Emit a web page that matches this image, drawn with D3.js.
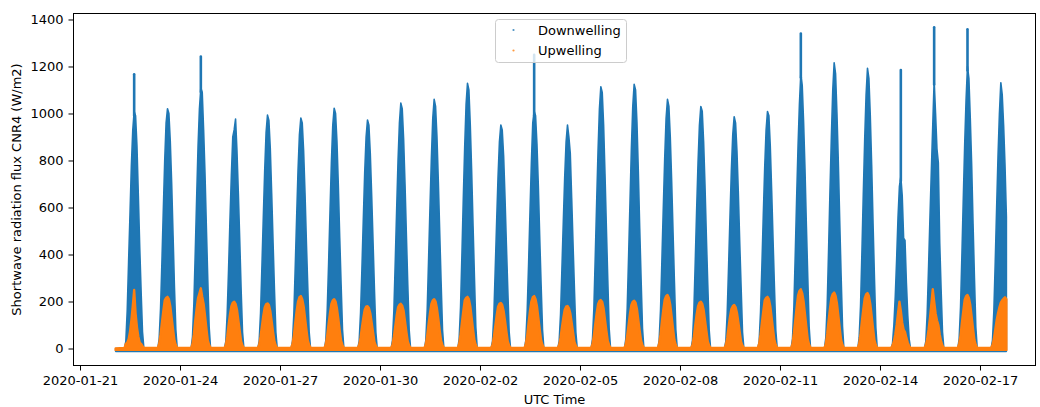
<!DOCTYPE html>
<html>
<head>
<meta charset="utf-8">
<script src="https://cdn.jsdelivr.net/npm/d3@7"></script>
<style>
  body { margin: 0; background: #fff; }
  svg { display: block; font-family: "DejaVu Sans", sans-serif; }
  .tick text { font-size: 13px; fill: #000; }
  .tick line { stroke: #000; }
</style>
</head>
<body>
<div id="chart"></div>
<script>
// days with data (one entry per day), hourly samples of the daily envelope (UTC hour)
const days = ["2020-01-22", "2020-01-23", "2020-01-24", "2020-01-25", "2020-01-26", "2020-01-27",
  "2020-01-28", "2020-01-29", "2020-01-30", "2020-01-31", "2020-02-01", "2020-02-02", "2020-02-03",
  "2020-02-04", "2020-02-05", "2020-02-06", "2020-02-07", "2020-02-08", "2020-02-09", "2020-02-10",
  "2020-02-11", "2020-02-12", "2020-02-13", "2020-02-14", "2020-02-15", "2020-02-16", "2020-02-17"];
const hours = [8, 9, 10, 11, 12, 13, 14, 15, 16, 17, 18, 19, 20, 21, 22];

// Downwelling, upper envelope (W/m2)
const downwelling = [
  [0, 30, 160, 370, 570, 780, 930, 1008, 990, 860, 650, 430, 240, 70, 0],
  [0, 40, 170, 370, 590, 800, 960, 1020, 1000, 880, 700, 480, 260, 80, 0],
  [0, 50, 190, 410, 640, 860, 1020, 1108, 1090, 930, 740, 510, 290, 90, 0],
  [0, 30, 150, 340, 550, 740, 900, 930, 976, 840, 660, 460, 250, 70, 0],
  [0, 30, 150, 350, 560, 760, 920, 993, 970, 850, 660, 450, 250, 70, 0],
  [0, 30, 150, 350, 560, 760, 910, 981, 960, 840, 660, 450, 260, 70, 0],
  [0, 35, 160, 360, 580, 790, 950, 1022, 1000, 880, 690, 470, 270, 80, 0],
  [0, 30, 150, 340, 550, 750, 900, 972, 950, 830, 650, 450, 250, 70, 0],
  [0, 35, 160, 370, 590, 800, 960, 1044, 1020, 890, 700, 480, 270, 80, 0],
  [0, 35, 165, 380, 600, 810, 980, 1060, 1030, 900, 710, 490, 280, 80, 0],
  [0, 40, 175, 400, 640, 860, 1040, 1128, 1100, 950, 750, 520, 300, 90, 0],
  [0, 30, 145, 340, 540, 730, 880, 951, 930, 820, 640, 440, 250, 70, 0],
  [0, 35, 160, 360, 580, 790, 960, 1010, 990, 870, 690, 470, 270, 80, 0],
  [0, 30, 145, 340, 540, 730, 880, 951, 900, 830, 640, 440, 250, 70, 0],
  [0, 40, 170, 390, 620, 840, 1020, 1114, 1090, 950, 740, 510, 290, 85, 0],
  [0, 40, 170, 390, 620, 850, 1030, 1124, 1100, 960, 750, 510, 290, 85, 0],
  [0, 35, 165, 380, 600, 810, 980, 1060, 1030, 900, 710, 490, 280, 80, 0],
  [0, 35, 160, 370, 590, 790, 950, 1030, 1010, 880, 690, 470, 270, 80, 0],
  [0, 30, 150, 350, 560, 760, 910, 986, 960, 840, 660, 450, 260, 70, 0],
  [0, 30, 155, 355, 570, 770, 930, 1008, 990, 860, 670, 460, 260, 75, 0],
  [0, 40, 175, 400, 640, 860, 1040, 1170, 1120, 960, 760, 520, 300, 90, 0],
  [0, 45, 185, 420, 670, 900, 1100, 1216, 1170, 1000, 790, 540, 310, 95, 0],
  [0, 45, 180, 410, 660, 890, 1080, 1192, 1150, 990, 780, 530, 300, 90, 0],
  [0, 20, 100, 220, 380, 560, 690, 730, 650, 470, 460, 280, 140, 40, 0],
  [0, 30, 150, 350, 560, 760, 950, 1140, 1000, 850, 790, 450, 250, 70, 0],
  [0, 40, 175, 400, 640, 870, 1060, 1200, 1150, 980, 780, 530, 300, 90, 0],
  [0, 35, 160, 370, 600, 820, 1000, 1131, 1080, 950, 780, 560]
];

// Short cloud-enhancement spikes above the daily envelope
const spikeDays = ["2020-01-22", "2020-01-24", "2020-02-03", "2020-02-11", "2020-02-14", "2020-02-15", "2020-02-16"];
const spikeValues = [1167, 1242, 1250, 1340, 1185, 1367, 1358];

// Upwelling, upper envelope (W/m2)
const upwelling = [
  [2, 20, 25, 40, 70, 120, 180, 249, 150, 90, 50, 25, 20, 10, 2],
  [2, 20, 60, 110, 160, 205, 215, 220, 210, 180, 130, 80, 35, 15, 2],
  [2, 20, 60, 120, 170, 215, 235, 256, 220, 190, 140, 85, 35, 15, 2],
  [2, 15, 50, 100, 145, 180, 195, 199, 190, 165, 120, 75, 30, 12, 2],
  [2, 15, 50, 95, 140, 175, 188, 192, 185, 160, 115, 70, 30, 12, 2],
  [2, 20, 55, 110, 160, 200, 218, 223, 210, 180, 130, 80, 35, 15, 2],
  [2, 18, 55, 105, 150, 190, 205, 210, 200, 170, 125, 75, 32, 14, 2],
  [2, 15, 45, 90, 130, 165, 178, 180, 172, 150, 110, 68, 28, 12, 2],
  [2, 15, 50, 95, 140, 175, 186, 190, 182, 160, 115, 70, 30, 12, 2],
  [2, 18, 55, 105, 150, 190, 205, 210, 200, 170, 125, 75, 32, 14, 2],
  [2, 20, 60, 110, 160, 205, 215, 220, 210, 180, 130, 80, 35, 15, 2],
  [2, 15, 50, 95, 140, 178, 190, 194, 185, 160, 118, 72, 30, 12, 2],
  [2, 20, 55, 110, 160, 200, 218, 223, 210, 180, 130, 80, 35, 15, 2],
  [2, 15, 45, 90, 130, 165, 178, 181, 172, 150, 110, 68, 28, 12, 2],
  [2, 18, 55, 105, 150, 188, 202, 206, 198, 170, 122, 75, 32, 14, 2],
  [2, 18, 55, 100, 148, 185, 199, 203, 195, 168, 120, 74, 32, 14, 2],
  [2, 20, 60, 115, 165, 208, 223, 228, 215, 185, 135, 82, 36, 15, 2],
  [2, 15, 50, 100, 145, 180, 195, 199, 190, 165, 120, 75, 30, 12, 2],
  [2, 15, 45, 92, 135, 168, 180, 185, 176, 152, 112, 70, 28, 12, 2],
  [2, 20, 60, 110, 160, 205, 215, 220, 210, 180, 130, 80, 35, 15, 2],
  [2, 20, 65, 120, 175, 225, 245, 252, 235, 200, 145, 90, 38, 16, 2],
  [2, 20, 62, 118, 170, 215, 232, 238, 225, 192, 140, 86, 36, 15, 2],
  [2, 20, 62, 116, 168, 213, 230, 236, 223, 190, 138, 85, 36, 15, 2],
  [2, 12, 30, 60, 100, 150, 199, 160, 110, 80, 70, 45, 25, 10, 2],
  [2, 15, 40, 80, 130, 190, 252, 200, 150, 120, 100, 60, 30, 12, 2],
  [2, 20, 55, 110, 160, 208, 223, 228, 215, 185, 135, 82, 36, 15, 2],
  [2, 15, 40, 80, 120, 150, 175, 195, 205, 212, 218, 210]
];

// night-time levels, record start / end
const nightLow = { down: -12, up: -6 };
const recordStart = "2020-01-22T01:40:00Z";
const recordEnd = "2020-02-17T19:00:00Z";

const xTickLabels = ["2020-01-21", "2020-01-24", "2020-01-27", "2020-01-30", "2020-02-02",
  "2020-02-05", "2020-02-08", "2020-02-11", "2020-02-14", "2020-02-17"];
const yTicks = [0, 200, 400, 600, 800, 1000, 1200, 1400];

const W = 1040, H = 407;
const margin = { left: 73.5, right: 1035.5, top: 13.5, bottom: 365.5 };
const blue = "#1f77b4", orange = "#ff7f0e";

const x = d3.scaleUtc()
  .domain([new Date("2020-01-20T19:19:00Z"), new Date("2020-02-18T15:58:00Z")])
  .range([margin.left, margin.right]);
const y = d3.scaleLinear().domain([-72.3, 1425.5]).range([margin.bottom, margin.top]);

const svg = d3.select('#chart').append('svg').attr('width', W).attr('height', H);
svg.append('defs').append('clipPath').attr('id', 'plot-clip')
  .append('rect').attr('x', margin.left).attr('y', margin.top)
  .attr('width', margin.right - margin.left).attr('height', margin.bottom - margin.top);

function toTime(day, h) {
  return new Date(Date.parse(day + "T00:00:00Z") + h * 3600e3);
}

function buildSeries(values, low) {
  let pts = [{ t: new Date(recordStart), v: 0 }];
  days.forEach((d, i) => {
    values[i].forEach((v, j) => pts.push({ t: toTime(d, hours[j]), v: v }));
  });
  let last = pts[pts.length - 1];
  if (new Date(recordEnd) > last.t) pts.push({ t: new Date(recordEnd), v: last.v });
  return pts.map(p => ({ t: p.t, hi: p.v, lo: low }));
}

let plot = svg.append('g').attr('clip-path', 'url(#plot-clip)');

let area = d3.area()
  .x(d => x(d.t))
  .y0(d => y(d.lo))
  .y1(d => y(d.hi));

// downwelling
plot.append('path')
  .datum(buildSeries(downwelling, nightLow.down))
  .attr('d', area)
  .attr('fill', blue)
  .attr('stroke', blue)
  .attr('stroke-width', 1.6)
  .attr('stroke-linejoin', 'round');

// spikes, rising from the top of that day's envelope
let spikes = spikeDays.map((d, i) => {
  let body = d3.max(downwelling[days.indexOf(d)]);
  return { t: toTime(d, 15), base: body, v: spikeValues[i] };
});
plot.selectAll('.spike')
  .data(spikes)
  .enter().append('line')
  .attr('class', 'spike')
  .attr('x1', d => x(d.t)).attr('x2', d => x(d.t))
  .attr('y1', d => y(d.base) + 4).attr('y2', d => y(d.v))
  .attr('stroke', blue)
  .attr('stroke-width', 2.6)
  .attr('stroke-linecap', 'round');

// upwelling
plot.append('path')
  .datum(buildSeries(upwelling, nightLow.up))
  .attr('d', area)
  .attr('fill', orange)
  .attr('stroke', orange)
  .attr('stroke-width', 2.4)
  .attr('stroke-linejoin', 'round');

// axes
let xAxis = d3.axisBottom(x)
  .tickValues(xTickLabels.map(s => new Date(s + "T00:00:00Z")))
  .tickFormat(d3.utcFormat("%Y-%m-%d"))
  .tickSize(5).tickPadding(5);
svg.append('g').attr('transform', `translate(0,${margin.bottom})`).call(xAxis)
  .call(g => g.select('.domain').remove());

let yAxis = d3.axisLeft(y).tickValues(yTicks).tickFormat(d3.format('d')).tickSize(5).tickPadding(5);
svg.append('g').attr('transform', `translate(${margin.left},0)`).call(yAxis)
  .call(g => g.select('.domain').remove());

svg.selectAll('.tick text').attr('font-family', '"DejaVu Sans", sans-serif');

// frame
svg.append('rect')
  .attr('x', margin.left).attr('y', margin.top)
  .attr('width', margin.right - margin.left).attr('height', margin.bottom - margin.top)
  .attr('fill', 'none').attr('stroke', '#000').attr('stroke-width', 1);

// labels
svg.append('text')
  .attr('x', (margin.left + margin.right) / 2).attr('y', 404)
  .attr('text-anchor', 'middle')
  .attr('font-size', 13)
  .text('UTC Time');

svg.append('text')
  .attr('transform', `translate(21,${(margin.top + margin.bottom) / 2}) rotate(-90)`)
  .attr('text-anchor', 'middle')
  .attr('font-size', 13)
  .text('Shortwave radiation flux CNR4 (W/m2)');

// legend
let legend = svg.append('g');
legend.append('rect')
  .attr('x', 495.5).attr('y', 19.5).attr('width', 131).attr('height', 43).attr('rx', 3)
  .attr('fill', '#fff').attr('fill-opacity', 0.8)
  .attr('stroke', '#cccccc').attr('stroke-width', 1);
[['Downwelling', blue, 30], ['Upwelling', orange, 50.5]].forEach(([label, c, ly]) => {
  legend.append('circle').attr('cx', 513.5).attr('cy', ly).attr('r', 1.1).attr('fill', c).attr('fill-opacity', 0.8);
  legend.append('text').attr('x', 538).attr('y', ly).attr('dy', '0.35em')
    .attr('font-size', 13).text(label);
});
</script>
</body>
</html>
